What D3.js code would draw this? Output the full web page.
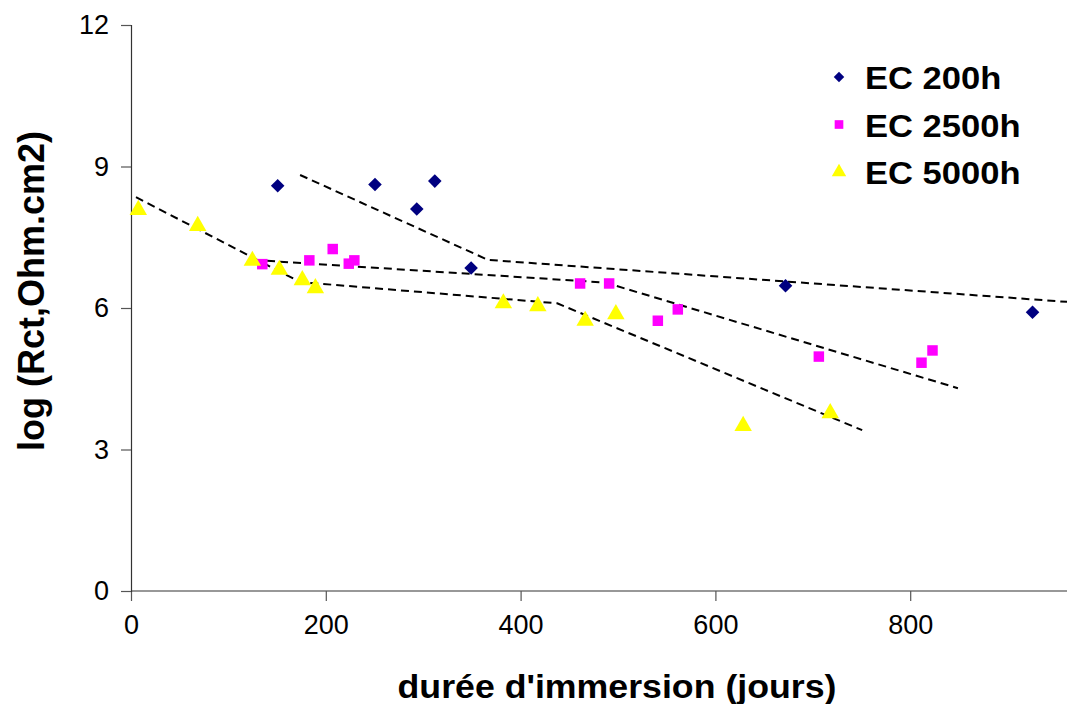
<!DOCTYPE html>
<html><head><meta charset="utf-8">
<script src="https://cdn.jsdelivr.net/npm/d3@7"></script>
<style>body{margin:0;background:#fff}svg{display:block}text{font-family:"Liberation Sans",Arial,sans-serif}</style>
</head><body><svg id="c" width="1067" height="704"></svg>
<script>
const seriesNames = ["EC 200h", "EC 2500h", "EC 5000h"];
const ec200 = [[150.6,8.59],[250.5,8.62],[293.4,8.10],[311.9,8.69],[349.2,6.85],[672,6.47],[925.6,5.91]];
const ec2500 = [[134.8,6.93],[183.1,7.01],[207.1,7.25],[223.6,6.94],[229.3,7.01],[461.1,6.52],[490.9,6.52],[540.9,5.73],[561.4,5.97],[706.2,4.97],[811.6,4.84],[822.9,5.10]];
const ec5000 = [[7.5,8.08],[68.5,7.74],[124.6,7.00],[152.3,6.81],[175.9,6.59],[189.3,6.42],[382.3,6.10],[417.7,6.04],[466.3,5.73],[497.8,5.87],[628.5,3.50],[717.9,3.77]];
const trend200 = [[173.6,8.82],[366.6,7.02],[961,6.13]];
const trend2500 = [[139.7,7.0],[486.7,6.54],[849,4.30]];
const trend5000 = [[5.1,8.35],[173.6,6.55],[437.5,6.10],[750.7,3.41]];
const xTicks = [0,200,400,600,800];
const yTicks = [0,3,6,9,12];
const colors = ["#000080","#FF00FF","#FFFF00"];

const svg = d3.select("#c");
const x = d3.scaleLinear().domain([0,1000]).range([131,1105]);
const y = d3.scaleLinear().domain([0,12]).range([591,25]);

// axes
const xa = svg.append("g").attr("transform","translate(0,591)")
  .call(d3.axisBottom(x).tickValues(xTicks).tickSize(10).tickPadding(14));
const ya = svg.append("g").attr("transform","translate(131,0)")
  .call(d3.axisLeft(y).tickValues(yTicks).tickSize(10).tickPadding(12));
[xa,ya].forEach(g=>{
  g.select(".domain").attr("stroke","#333").attr("stroke-width",1.2);
  g.selectAll(".tick line").attr("stroke","#555").attr("stroke-width",1.2);
  g.selectAll(".tick text").attr("font-size",27).attr("fill","#000").attr("font-family","Liberation Sans, Arial");
});
xa.select(".domain").attr("d","M131,0H1067");

// trend lines
const line = d3.line().x(d=>x(d[0])).y(d=>y(d[1]));
[trend200,trend2500,trend5000].forEach(t=>{
  svg.append("path").attr("d",line(t)).attr("fill","none").attr("stroke","#000")
    .attr("stroke-width",2).attr("stroke-dasharray","8,5").attr("stroke-linejoin","round");
});

// marker drawer
function marker(g, i, s){
  if(i===0) return g.append("path").attr("d",d3.symbol().type(d3.symbolSquare).size(s)()).attr("fill",colors[0]);
  if(i===1) return g.append("path").attr("d",d3.symbol().type(d3.symbolSquare).size(s)()).attr("fill",colors[1]);
  return g.append("path").attr("d",d3.symbol().type(d3.symbolTriangle).size(s*1.2)()).attr("fill",colors[2]);
}
const sizes = [92,110,110];
[ec200,ec2500,ec5000].forEach((s,i)=>{
  svg.append("g").selectAll("g").data(s).join("g")
    .attr("transform",d=>`translate(${x(d[0])},${y(d[1])})`+(i===0?" rotate(45)":""))
    .each(function(){ marker(d3.select(this), i, sizes[i]); });
});

// legend
const lg = svg.append("g");
seriesNames.forEach((n,i)=>{
  const yy = 77 + i*47.5;
  const mg = lg.append("g").attr("transform",`translate(839,${yy})`+(i===0?" rotate(45)":""));
  marker(mg, i, i===0?55:75);
  lg.append("text").attr("transform",`translate(865,${yy+12}) scale(1.08,1)`)
    .attr("font-size",32).attr("font-weight","bold").text(n);
});

// titles
svg.append("text").attr("transform","translate(617,698) scale(1.05,1)").attr("text-anchor","middle")
  .attr("font-size",34).attr("font-weight","bold").text("durée d'immersion (jours)");
svg.append("text").attr("transform","translate(44,291) rotate(-90)").attr("text-anchor","middle")
  .attr("font-size",36).attr("font-weight","bold").text("log (Rct,Ohm.cm2)");
</script></body></html>
